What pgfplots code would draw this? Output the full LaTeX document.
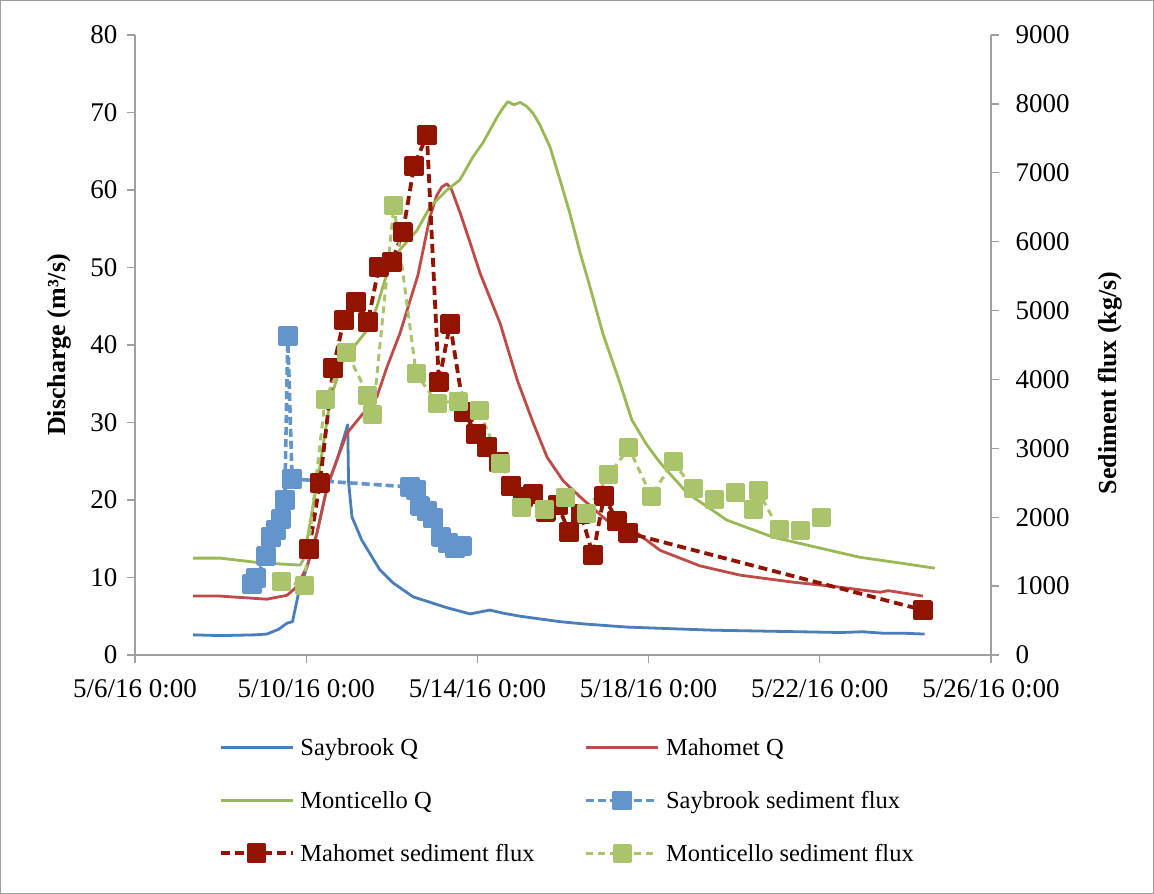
\documentclass[border=0pt]{standalone}
\usepackage{pgfplots}
\pgfplotsset{compat=1.18}
\usepackage{fontspec}
\setmainfont{Liberation Serif}

\definecolor{sayQ}{HTML}{4A7EBB}
\definecolor{mahQ}{HTML}{BE4B48}
\definecolor{monQ}{HTML}{98B954}
\definecolor{sayF}{HTML}{6394CB}
\definecolor{mahF}{HTML}{911400}
\definecolor{monF}{HTML}{A9C46A}
\definecolor{axgray}{HTML}{A0A0A0}

% time axis: days since 5/6/16 0:00
\pgfplotstableread{
d q
1.36 2.6
2.00 2.5
2.80 2.6
3.08 2.7
3.35 3.3
3.55 4.1
3.68 4.3
3.81 7.7
4.02 11.4
4.25 15.7
4.49 21.7
4.72 25.2
4.97 29.7
4.99 22.3
5.07 17.8
5.30 14.8
5.72 11.0
6.03 9.3
6.50 7.5
7.29 6.1
7.83 5.3
8.29 5.8
8.60 5.4
9.00 5.0
9.93 4.3
10.50 4.0
11.50 3.6
12.50 3.4
13.50 3.2
14.50 3.1
15.50 3.0
16.50 2.9
17.00 3.0
17.50 2.8
18.00 2.8
18.45 2.7
}\saybrookQ

\pgfplotstableread{
d q
1.36 7.6
1.99 7.6
3.08 7.2
3.55 7.7
3.74 8.6
3.85 9.6
4.02 11.4
4.25 15.7
4.49 21.7
4.72 25.2
4.95 28.6
5.26 30.7
5.65 33.3
5.89 37.2
6.19 41.5
6.61 49.0
6.89 56.5
7.05 59.3
7.17 60.4
7.29 60.8
7.40 60.0
7.60 57.0
7.83 53.2
8.06 49.3
8.53 42.8
8.93 35.5
9.30 30.0
9.63 25.5
10.00 22.5
10.40 20.4
11.10 17.0
11.64 16.1
12.27 13.5
13.20 11.5
14.14 10.3
15.37 9.4
16.40 8.8
17.10 8.3
17.41 8.1
17.60 8.3
18.41 7.6
}\mahometQ

\pgfplotstableread{
d q
1.36 12.5
1.99 12.5
2.92 11.9
3.86 11.6
3.93 12.3
4.02 14.8
4.32 24.3
4.56 32.9
4.86 38.1
5.19 40.3
5.42 41.9
5.65 44.9
5.89 49.3
6.19 52.3
6.59 54.8
6.89 57.8
7.29 60.0
7.59 61.3
7.90 64.3
8.13 66.1
8.46 69.4
8.60 70.6
8.71 71.4
8.85 71.0
9.00 71.3
9.15 70.8
9.30 69.9
9.46 68.4
9.70 65.5
9.93 61.3
10.16 57.0
10.40 51.9
10.63 47.5
10.93 41.5
11.33 35.1
11.61 30.3
11.96 27.1
12.27 24.8
12.90 20.9
13.83 17.4
14.91 15.2
16.00 13.8
16.94 12.6
17.71 12.0
18.69 11.2
}\monticelloQ

\pgfplotstableread{
d f
2.73 1031
2.83 1118
3.06 1437
3.18 1713
3.29 1814
3.41 1974
3.50 2250
3.57 4631
3.67 2555
6.43 2439
6.57 2395
6.66 2163
6.82 2090
6.96 1989
7.15 1713
7.31 1626
7.48 1553
7.64 1582
}\saybrookF

\pgfplotstableread{
d f
4.07 1539
4.32 2497
4.63 4166
4.88 4863
5.16 5124
5.44 4834
5.70 5632
6.00 5705
6.26 6140
6.52 7098
6.82 7548
7.10 3963
7.36 4805
7.69 3527
7.97 3208
8.22 3020
8.50 2802
8.79 2453
9.07 2294
9.30 2337
9.60 2076
9.88 2177
10.14 1785
10.42 2047
10.70 1452
10.96 2308
11.26 1945
11.52 1771
18.41 653
}\mahometF

\pgfplotstableread{
d f
3.43 1060
3.95 1016
4.44 3702
4.95 4398
5.44 3774
5.56 3484
6.05 6532
6.57 4079
7.06 3658
7.55 3687
8.04 3542
8.55 2787
9.04 2134
9.56 2119
10.05 2279
10.54 2061
11.07 2613
11.54 3005
12.06 2308
12.57 2802
13.04 2424
13.55 2250
14.04 2352
14.44 2119
14.56 2381
15.05 1815
15.54 1800
16.05 2003
}\monticelloF

\pgfplotsset{
  excel/.style={
    scale only axis, width=856pt, height=620pt,
    at={(135pt,239pt)}, anchor=south west,
    xmin=0, xmax=20,
    axis line style={axgray, line width=1.3pt},
    tick style={axgray, line width=1.3pt},
    major tick length=8pt,
    tick align=outside,
    tick label style={font=\fontsize{27}{30}\selectfont},
    /pgf/number format/assume math mode=true,
    /pgf/number format/set thousands separator={},
  },
  qline/.style={line width=2.8pt, line join=round},
  flux/.style={line width=#1, line join=round, mark=square*,
    mark size=8pt, mark options={solid}},
}

\begin{document}
\begin{tikzpicture}
\useasboundingbox (0pt,0pt) rectangle (1154pt,894pt);
\draw[gray!75, line width=1pt] (0.5pt,0.5pt) rectangle (1153.5pt,893.5pt);

% discharge, left axis
\begin{axis}[excel,
  axis x line*=bottom, axis y line*=left,
  ymin=0, ymax=80, ytick={0,10,...,80},
  xtick={0,4,...,20},
  xticklabels={5/6/16 0:00, 5/10/16 0:00, 5/14/16 0:00, 5/18/16 0:00, 5/22/16 0:00, 5/26/16 0:00},
  xticklabel style={yshift=-13pt},
  yticklabel style={xshift=-6pt},
  ylabel={Discharge (m³/s)},
  every axis y label/.style={at={(axis description cs:-0.088,0.5)}, rotate=90, anchor=center,
    font=\fontsize{26}{30}\selectfont\bfseries},
]
\addplot[sayQ, qline] table[x=d, y=q] {\saybrookQ};
\addplot[mahQ, qline] table[x=d, y=q] {\mahometQ};
\addplot[monQ, qline] table[x=d, y=q] {\monticelloQ};
\end{axis}

% sediment flux, right axis
\begin{axis}[excel,
  axis x line=none, axis y line*=right,
  ymin=0, ymax=9000, ytick={0,1000,...,9000},
  yticklabel style={xshift=13pt},
  ylabel={Sediment flux (kg/s)},
  every axis y label/.style={at={(axis description cs:1.139,0.439)}, rotate=90, anchor=center,
    font=\fontsize{26}{30}\selectfont\bfseries},
  legend columns=2,
  legend cell align=left,
  legend style={at={(axis description cs:0.094,-0.128)}, anchor=north west,
    draw=none, fill=none, font=\fontsize{24.5}{28}\selectfont,
    row sep=30pt, nodes={inner sep=2pt},
    /tikz/every odd column/.style={column sep=4pt}},
  legend image code/.code={\draw[mark repeat=2, mark phase=2, #1]
    plot coordinates {(0pt,0pt) (36pt,0pt) (72pt,0pt)};},
]
\addlegendimage{sayQ, qline}
\addlegendentry{\makebox[282pt][l]{Saybrook Q}}
\addlegendimage{mahQ, qline}
\addlegendentry{Mahomet Q}
\addlegendimage{monQ, qline}
\addlegendentry{\makebox[282pt][l]{Monticello Q}}

\addplot[sayF, flux=3.6pt, dash pattern=on 8pt off 4pt] table[x=d, y=f] {\saybrookF};
\addlegendentry{Saybrook sediment flux}
\addplot[mahF, flux=3.8pt, dash pattern=on 9pt off 5pt] table[x=d, y=f] {\mahometF};
\addlegendentry{\makebox[282pt][l]{Mahomet sediment flux}}
\addplot[monF, flux=3pt, dash pattern=on 7pt off 5pt] table[x=d, y=f] {\monticelloF};
\addlegendentry{Monticello sediment flux}
\end{axis}
\end{tikzpicture}
\end{document}
